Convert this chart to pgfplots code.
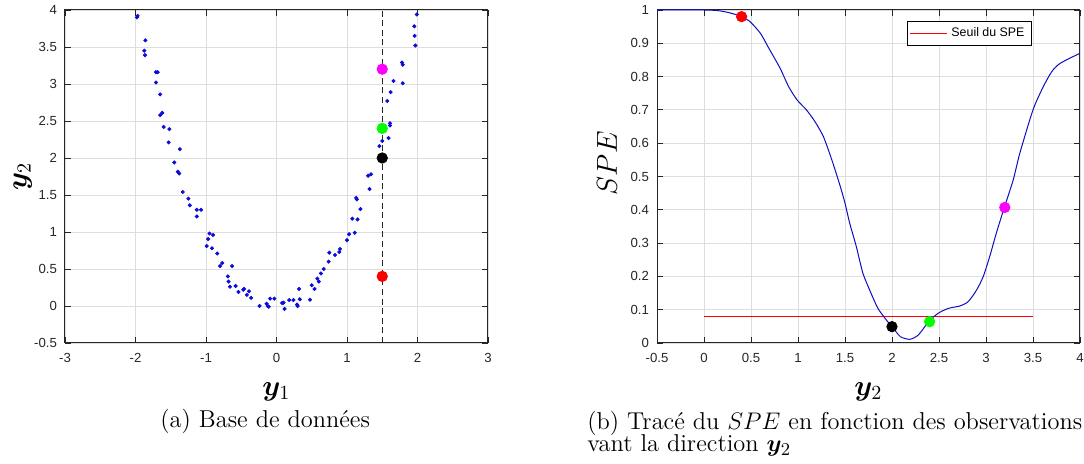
\documentclass[border=0pt]{standalone}
\usepackage{fontspec}
\usepackage{amsmath,bm}
\usepackage{pgfplots}
\pgfplotsset{compat=1.18}
\newfontfamily\arialf{Liberation Sans}
\definecolor{axgray}{rgb}{0.15,0.15,0.15}
\definecolor{gridgray}{rgb}{0.87,0.87,0.87}
\definecolor{mymag}{rgb}{1,0,1}
\definecolor{mygreen}{rgb}{0,1,0}
\definecolor{myred}{rgb}{1,0,0}
\definecolor{curveblue}{rgb}{0.05,0.05,0.75}
\definecolor{dotblue}{rgb}{0.05,0.05,0.85}

\pgfplotsset{
  matlab/.style={
    scale only axis,
    width=211.5pt, height=166.5pt,
    anchor=south west,
    axis line style={draw=axgray, line width=0.5pt},
    tick style={draw=axgray, line width=0.4pt},
    tick align=inside,
    major tick length=3pt,
    grid=major,
    grid style={draw=gridgray, line width=0.4pt},
    /pgf/number format/assume math mode=true,
    ticklabel style={font=\arialf\fontsize{6.6}{7.5}\selectfont, text=axgray},
    xticklabel style={yshift=-1.5pt},
    yticklabel style={xshift=-0.5pt},
    clip=true,
  }
}

\pgfplotstableread{
x y
-1.98 3.90
-1.97 3.92
-1.86 3.59
-1.875 3.45
-1.865 3.39
-1.71 3.16
-1.685 3.16
-1.71 3.02
-1.65 2.86
-1.65 2.58
-1.62 2.61
-1.60 2.42
-1.52 2.39
-1.53 2.21
-1.37 2.12
-1.45 1.94
-1.40 1.815
-1.38 1.79
-1.33 1.54
-1.25 1.45
-1.23 1.36
-1.13 1.30
-1.07 1.30
-1.13 1.21
-0.95 0.98
-0.90 0.96
-0.97 0.905
-0.99 0.81
-0.915 0.78
-0.84 0.71
-0.80 0.54
-0.77 0.58
-0.63 0.54
-0.69 0.40
-0.68 0.33
-0.66 0.26
-0.58 0.27
-0.54 0.19
-0.47 0.22
-0.46 0.23
-0.39 0.20
-0.42 0.15
-0.36 0.11
-0.24 0.00
-0.14 0.03
-0.125 0.00
-0.11 -0.01
-0.09 0.10
-0.03 0.10
0.08 0.04
0.10 0.045
0.115 -0.04
0.18 0.08
0.24 0.08
0.29 0.02
0.30 0.00
0.32 0.23
0.33 0.09
0.475 0.085
0.50 0.28
0.54 0.23
0.58 0.37
0.60 0.33
0.63 0.44
0.67 0.50
0.74 0.60
0.75 0.72
0.83 0.69
0.90 0.77
0.89 0.73
1.00 0.89
1.03 0.97
1.11 0.99
1.075 1.18
1.15 1.17
1.19 1.31
1.13 1.46
1.14 1.44
1.32 1.58
1.30 1.76
1.34 1.78
1.46 2.16
1.50 2.23
1.59 2.27
1.61 2.47
1.61 2.44
1.57 2.77
1.62 2.89
1.66 3.04
1.79 3.01
1.78 3.29
1.79 3.26
1.97 3.52
1.96 3.65
1.955 3.78
1.99 3.94
}\scatterdata

\pgfplotstableread{
x y
-0.5 1.0
0 1.0
0.15 0.998
0.25 0.993
0.33 0.987
0.40 0.980
0.49 0.965
0.60 0.93
0.70 0.88
0.81 0.825
0.90 0.77
0.99 0.73
1.09 0.70
1.18 0.665
1.27 0.62
1.36 0.55
1.45 0.47
1.50 0.42
1.55 0.36
1.62 0.29
1.69 0.21
1.77 0.154
1.85 0.104
1.94 0.069
2.00 0.049
2.09 0.019
2.19 0.011
2.28 0.024
2.39 0.064
2.49 0.089
2.60 0.104
2.72 0.111
2.81 0.124
2.90 0.159
2.97 0.199
3.04 0.26
3.11 0.33
3.195 0.407
3.29 0.49
3.36 0.57
3.50 0.70
3.61 0.77
3.70 0.815
3.79 0.84
4.0 0.87
}\spedata

\begin{document}
\begin{tikzpicture}
\useasboundingbox (0,0) rectangle (542pt,232pt);

% ---------- left plot ----------
\begin{axis}[matlab,
  at={(32.5pt,60.5pt)},
  xmin=-3, xmax=3, ymin=-0.5, ymax=4,
  xtick={-3,-2,-1,0,1,2,3},
  ytick={-0.5,0,0.5,1,1.5,2,2.5,3,3.5,4},
  xlabel={$\boldsymbol{y}_1$},
  ylabel={$\boldsymbol{y}_2$},
  xlabel style={at={(axis description cs:0.5,0)}, anchor=center, yshift=-24.5pt, font=\fontsize{14.5}{16}\selectfont},
  ylabel style={at={(axis description cs:-0.1,0.5)}, anchor=center, font=\fontsize{14.5}{16}\selectfont},
]
\addplot[draw=axgray, dash pattern=on 3pt off 1.8pt, line width=0.5pt] coordinates {(1.5,-0.5) (1.5,4)};
\addplot[only marks, mark=*, mark size=0.8pt, color=dotblue] table {\scatterdata};
\addplot[only marks, mark=*, mark size=2.6pt, color=myred] coordinates {(1.5,0.4)};
\addplot[only marks, mark=*, mark size=2.6pt, color=black] coordinates {(1.5,2.0)};
\addplot[only marks, mark=*, mark size=2.6pt, color=mygreen] coordinates {(1.5,2.4)};
\addplot[only marks, mark=*, mark size=2.6pt, color=mymag] coordinates {(1.5,3.2)};
\end{axis}

% ---------- right plot ----------
\begin{axis}[matlab,
  at={(328.5pt,60.5pt)},
  xmin=-0.5, xmax=4, ymin=0, ymax=1,
  xtick={-0.5,0,0.5,1,1.5,2,2.5,3,3.5,4},
  ytick={0,0.1,0.2,0.3,0.4,0.5,0.6,0.7,0.8,0.9,1},
  yticklabels={0,0.1,0.2,0.3,0.4,0.5,0.6,0.7,0.8,0.9,1},
  xlabel={$\boldsymbol{y}_2$},
  ylabel={$SPE$},
  xlabel style={at={(axis description cs:0.5,0)}, anchor=center, yshift=-24.5pt, font=\fontsize{14.5}{16}\selectfont},
  ylabel style={at={(axis description cs:-0.118,0.54)}, anchor=center, font=\fontsize{15.5}{17}\selectfont},
  legend style={font=\arialf\fontsize{6.2}{7}\selectfont, draw=black, line width=0.4pt,
    at={(0.884,0.967)}, anchor=north east, inner sep=1.2pt, outer sep=0pt},
  legend cell align=left,
  legend image code/.code={\draw[#1] (0pt,0pt) -- (18.5pt,0pt);},
]
\addplot[color=myred, line width=0.5pt] coordinates {(0,0.081) (3.5,0.081)};
\addlegendentry{Seuil du SPE}
\addplot[color=curveblue, line width=0.5pt, smooth, tension=0.4, forget plot] table {\spedata};
\addplot[only marks, mark=*, mark size=2.6pt, color=myred, forget plot] coordinates {(0.4,0.98)};
\addplot[only marks, mark=*, mark size=2.6pt, color=black, forget plot] coordinates {(2.0,0.049)};
\addplot[only marks, mark=*, mark size=2.6pt, color=mygreen, forget plot] coordinates {(2.4,0.064)};
\addplot[only marks, mark=*, mark size=2.6pt, color=mymag, forget plot] coordinates {(3.2,0.407)};
\end{axis}

% ---------- captions ----------
\node[anchor=base west, inner sep=0pt, font=\fontsize{12.2}{13}\selectfont] at (80pt,18pt) {(a)\ Base de données};
\node[anchor=base west, inner sep=0pt, font=\fontsize{12.2}{13}\selectfont] at (293.5pt,17.4pt) {(b)\ Tracé du $SPE$ en fonction des observations};
\node[anchor=base west, inner sep=0pt, font=\fontsize{12.2}{13}\selectfont] at (293.5pt,6.2pt) {vant la direction $\boldsymbol{y}_2$};
\end{tikzpicture}
\end{document}
